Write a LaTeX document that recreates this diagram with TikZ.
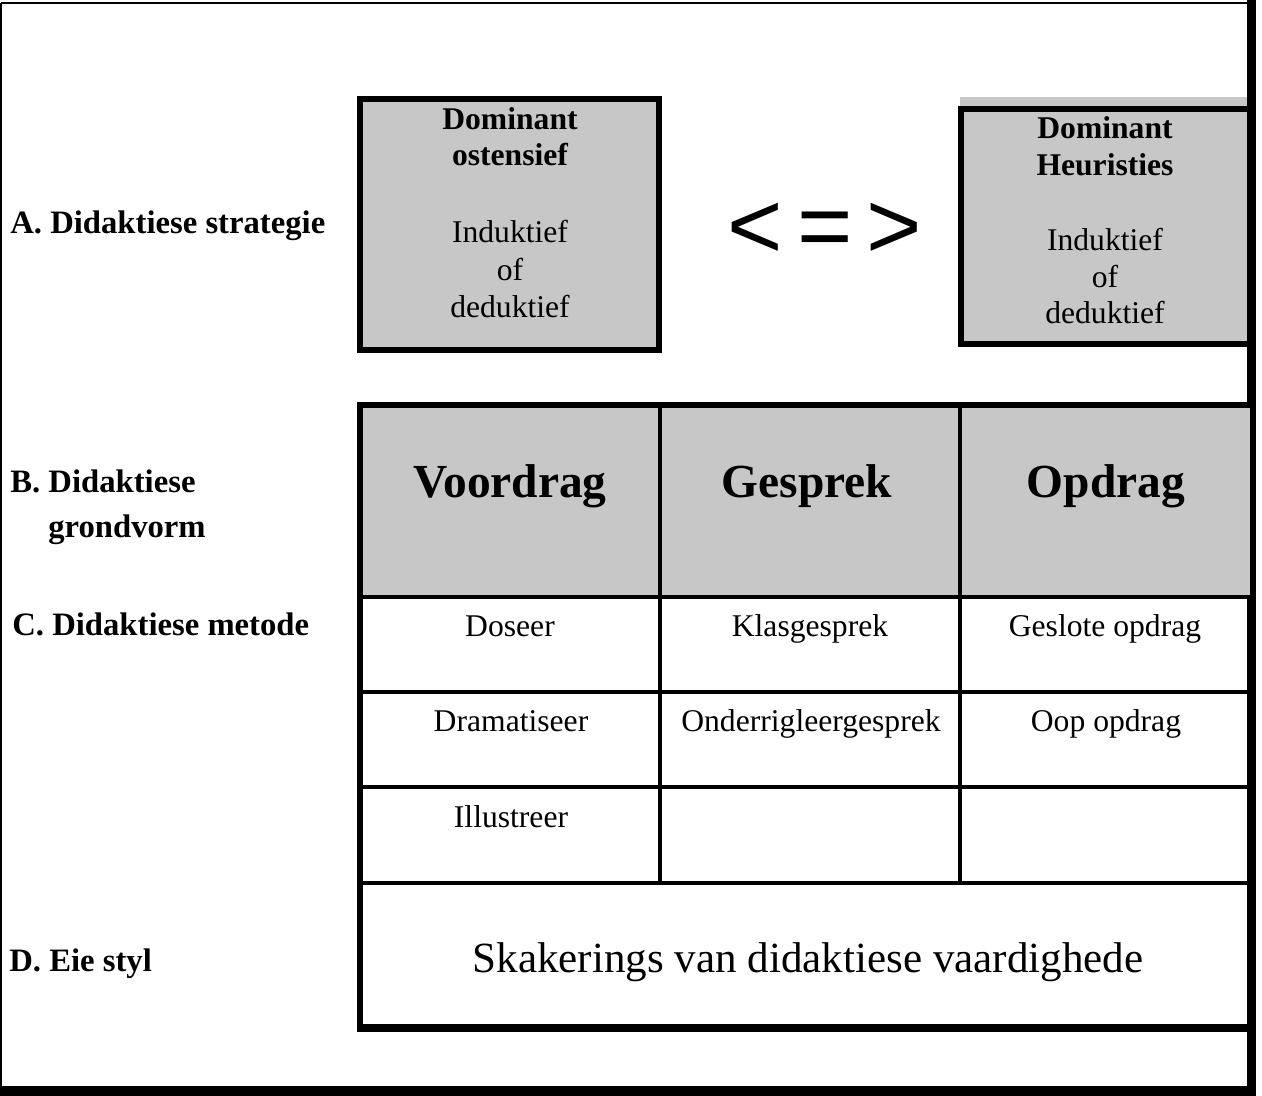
\documentclass[tikz,border=0pt]{standalone}
\usepackage{fontspec}
\setmainfont{Liberation Serif}
\newfontfamily\arialfont{Liberation Sans}
\definecolor{shadegray}{gray}{0.78}
\tikzset{
  lbl/.style={anchor=base west, inner sep=0pt, font=\fontsize{18.6}{21}\selectfont\bfseries},
  boxtxt/.style={anchor=base, inner sep=0pt, font=\fontsize{18}{21}\selectfont},
  boxhead/.style={anchor=base, inner sep=0pt, font=\fontsize{18}{21}\selectfont\bfseries},
  bigtxt/.style={anchor=base, inner sep=0pt, font=\fontsize{27}{30}\selectfont\bfseries},
  celltxt/.style={anchor=base, inner sep=0pt, font=\fontsize{18}{21}\selectfont},
  thickbox/.style={line width=3.4pt, fill=shadegray},
  colline/.style={line width=2.8pt},
  rowline/.style={line width=1.8pt}
}
\begin{document}
\begin{tikzpicture}[x=0.02cm,y=-0.02cm]
\useasboundingbox (0,0) rectangle (1262,1096);
% outer frame
\draw[line width=1.1pt] (1,3) -- (1251,3);
\draw[line width=1.1pt] (1,3) -- (1,1090);
\fill (1247,0) rectangle (1256,1096);
\fill (0,1086) rectangle (1256,1096);

% strategy boxes
\draw[thickbox] (360,99) rectangle (659,350);
\fill[shadegray] (960,97) rectangle (1247,107);
\draw[thickbox] (961,109) rectangle (1250,344);

% table
\fill[shadegray] (360,405) rectangle (1250,597);
\draw[rowline] (360,597) -- (1250,597);
\draw[rowline] (360,692) -- (1250,692);
\draw[rowline] (360,787) -- (1250,787);
\draw[rowline] (360,883) -- (1250,883);
\draw[colline] (660,405) -- (660,883);
\draw[colline] (960,405) -- (960,883);
\draw[line width=3.4pt] (360,1028) -- (360,405) -- (1250,405);
\draw[line width=5pt] (357,1028) -- (1250,1028);

% left labels
\node[lbl] (la) at (10,233) {A.\ Didaktiese strategie};
\node[lbl] (lb1) at (10,492) {B.\ Didaktiese};
\node[lbl] (lb2) at (48,537) {grondvorm};
\node[lbl] (lc) at (12,635) {C.\ Didaktiese metode};
\node[lbl] (ld) at (9,971) {D.\ Eie styl};

% box 1 text
\node[boxhead] (o1) at (510,129) {Dominant};
\node[boxhead] (o2) at (510,165) {ostensief};
\node[boxtxt] (o3) at (510,242) {Induktief};
\node[boxtxt] (o4) at (510,280) {of};
\node[boxtxt] (o5) at (510,317) {deduktief};

% box 2 text
\node[boxhead] (h1) at (1105,138) {Dominant};
\node[boxhead] (h2) at (1105,175) {Heuristies};
\node[boxtxt] (h3) at (1105,250) {Induktief};
\node[boxtxt] (h4) at (1105,287) {of};
\node[boxtxt] (h5) at (1105,323) {deduktief};

% relation
\node[inner sep=0pt, font=\arialfont\fontsize{54}{58}\selectfont] (rel) at (825,231) {<\hspace{8pt}=\hspace{8pt}>};

% grondvorm row
\node[bigtxt] (g1) at (510,497) {Voordrag};
\node[bigtxt] (g2) at (807,497) {Gesprek};
\node[bigtxt] (g3) at (1106,497) {Opdrag};

% method cells
\node[celltxt] (m11) at (510,636) {Doseer};
\node[celltxt] (m12) at (810,636) {Klasgesprek};
\node[celltxt] (m13) at (1105,636) {Geslote opdrag};
\node[celltxt] (m21) at (511,731) {Dramatiseer};
\node[celltxt] (m22) at (811,731) {Onderrigleergesprek};
\node[celltxt] (m23) at (1106,731) {Oop opdrag};
\node[celltxt] (m31) at (511,827) {Illustreer};

% own style
\node[anchor=base, inner sep=0pt, font=\fontsize{24.5}{28}\selectfont] (sk) at (808,972) {Skakerings van didaktiese vaardighede};
\end{tikzpicture}
\end{document}
